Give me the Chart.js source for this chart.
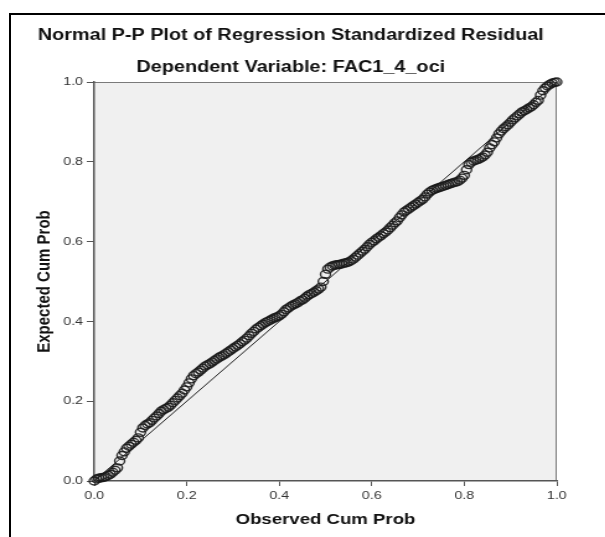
<!DOCTYPE html>
<html>
<head>
<meta charset="utf-8">
<script src="https://cdn.jsdelivr.net/npm/chart.js@4.4.1/dist/chart.umd.min.js"></script>
<style>
  html, body { margin: 0; padding: 0; background: #fff; overflow: hidden; }
  #frame { position: absolute; left: 9px; top: 13px; width: 700px; height: 700px; border: 2px solid #000; }
  /* the reference picture is stretched sideways, so the chart is drawn narrow and widened */
  #wrap { position: absolute; left: 0; top: 0; width: 488px; height: 537px; transform: scaleX(1.24); transform-origin: 0 0; }
</style>
</head>
<body>
<div id="frame"></div>
<div id="wrap"><canvas id="chart" width="488" height="537"></canvas></div>
<script>
// observed cumulative probability (x) of each residual
const observed = [
  0.000, 0.005, 0.010, 0.015, 0.020, 0.025, 0.030, 0.035, 0.040, 0.045,
  0.050, 0.055, 0.060, 0.065, 0.070, 0.075, 0.080, 0.085, 0.090, 0.095,
  0.100, 0.105, 0.110, 0.115, 0.120, 0.125, 0.130, 0.135, 0.140, 0.145,
  0.150, 0.155, 0.160, 0.165, 0.170, 0.175, 0.180, 0.185, 0.190, 0.195,
  0.200, 0.205, 0.210, 0.215, 0.220, 0.225, 0.230, 0.235, 0.240, 0.245,
  0.250, 0.255, 0.260, 0.265, 0.270, 0.275, 0.280, 0.285, 0.290, 0.295,
  0.300, 0.305, 0.310, 0.315, 0.320, 0.325, 0.330, 0.335, 0.340, 0.345,
  0.350, 0.355, 0.360, 0.365, 0.370, 0.375, 0.380, 0.385, 0.390, 0.395,
  0.400, 0.405, 0.410, 0.415, 0.420, 0.425, 0.430, 0.435, 0.440, 0.445,
  0.450, 0.455, 0.460, 0.465, 0.470, 0.475, 0.480, 0.485, 0.490, 0.495,
  0.500, 0.505, 0.510, 0.515, 0.520, 0.525, 0.530, 0.535, 0.540, 0.545,
  0.550, 0.555, 0.560, 0.565, 0.570, 0.575, 0.580, 0.585, 0.590, 0.595,
  0.600, 0.605, 0.610, 0.615, 0.620, 0.625, 0.630, 0.635, 0.640, 0.645,
  0.650, 0.655, 0.660, 0.665, 0.670, 0.675, 0.680, 0.685, 0.690, 0.695,
  0.700, 0.705, 0.710, 0.715, 0.720, 0.725, 0.730, 0.735, 0.740, 0.745,
  0.750, 0.755, 0.760, 0.765, 0.770, 0.775, 0.780, 0.785, 0.790, 0.795,
  0.800, 0.805, 0.810, 0.815, 0.820, 0.825, 0.830, 0.835, 0.840, 0.845,
  0.850, 0.855, 0.860, 0.865, 0.870, 0.875, 0.880, 0.885, 0.890, 0.895,
  0.900, 0.905, 0.910, 0.915, 0.920, 0.925, 0.930, 0.935, 0.940, 0.945,
  0.950, 0.955, 0.960, 0.965, 0.970, 0.975, 0.980, 0.985, 0.990, 0.995,
  1.000
];
// expected cumulative probability (y)
const expected = [
  0.000, 0.005, 0.007, 0.008, 0.009, 0.011, 0.014, 0.017, 0.022, 0.027,
  0.033, 0.050, 0.064, 0.073, 0.082, 0.087, 0.092, 0.097, 0.102, 0.108,
  0.122, 0.133, 0.139, 0.143, 0.146, 0.152, 0.158, 0.163, 0.169, 0.175,
  0.179, 0.182, 0.185, 0.190, 0.196, 0.202, 0.208, 0.214, 0.220, 0.228,
  0.236, 0.246, 0.256, 0.264, 0.269, 0.273, 0.278, 0.283, 0.288, 0.291,
  0.294, 0.298, 0.302, 0.306, 0.310, 0.313, 0.316, 0.320, 0.324, 0.328,
  0.332, 0.336, 0.340, 0.344, 0.349, 0.353, 0.358, 0.364, 0.370, 0.375,
  0.381, 0.385, 0.389, 0.393, 0.397, 0.400, 0.403, 0.406, 0.409, 0.411,
  0.414, 0.418, 0.424, 0.430, 0.434, 0.438, 0.441, 0.444, 0.447, 0.451,
  0.454, 0.458, 0.463, 0.467, 0.470, 0.473, 0.477, 0.481, 0.486, 0.500,
  0.518, 0.531, 0.536, 0.539, 0.541, 0.542, 0.543, 0.544, 0.546, 0.547,
  0.549, 0.552, 0.556, 0.561, 0.566, 0.571, 0.576, 0.581, 0.587, 0.593,
  0.598, 0.602, 0.607, 0.611, 0.615, 0.620, 0.624, 0.629, 0.635, 0.641,
  0.647, 0.652, 0.660, 0.667, 0.674, 0.678, 0.682, 0.686, 0.690, 0.694,
  0.698, 0.702, 0.706, 0.712, 0.719, 0.724, 0.728, 0.731, 0.733, 0.735,
  0.737, 0.739, 0.741, 0.743, 0.745, 0.747, 0.749, 0.750, 0.754, 0.759,
  0.766, 0.780, 0.793, 0.799, 0.802, 0.804, 0.806, 0.809, 0.812, 0.817,
  0.824, 0.835, 0.843, 0.850, 0.860, 0.870, 0.877, 0.883, 0.888, 0.893,
  0.899, 0.905, 0.910, 0.915, 0.920, 0.925, 0.928, 0.931, 0.935, 0.938,
  0.943, 0.949, 0.954, 0.967, 0.978, 0.985, 0.990, 0.994, 0.997, 0.999,
  1.000
];
// ends of the reference diagonal
const refLine = [0, 1];
const tickLabels = ["0.0", "0.2", "0.4", "0.6", "0.8", "1.0"];

Chart.defaults.font.family = '"Liberation Sans", Arial, sans-serif';

// grey plot background plus the thin top/right border
const plotFrame = {
  id: "plotFrame",
  beforeDraw(chart) {
    const { ctx, chartArea: a } = chart;
    ctx.save();
    ctx.fillStyle = "#f0f0f0";
    ctx.fillRect(a.left, a.top, a.right - a.left, a.bottom - a.top);
    ctx.strokeStyle = "#7a7a7a";
    ctx.lineWidth = 1;
    ctx.beginPath();
    ctx.moveTo(a.left, a.top + 0.5);
    ctx.lineTo(a.right - 0.5, a.top + 0.5);
    ctx.lineTo(a.right - 0.5, a.bottom);
    ctx.stroke();
    ctx.restore();
  }
};

const titleFont = { size: 16, weight: "bold", lineHeight: 1.2 };
const axisTitleFont = { size: 15, weight: "bold", lineHeight: 1.2 };

new Chart(document.getElementById("chart").getContext("2d"), {
  type: "scatter",
  data: {
    datasets: [
      {
        label: "Residuals",
        data: observed.map((x, i) => ({ x: x, y: expected[i] })),
        pointStyle: "circle",
        pointRadius: 4,
        pointBorderWidth: 1.4,
        pointBorderColor: "rgba(25,25,25,0.9)",
        pointBackgroundColor: "rgba(0,0,0,0)",
        clip: false,
        order: 1
      },
      {
        label: "Diagonal",
        data: refLine.map(v => ({ x: v, y: v })),
        showLine: true,
        borderColor: "#222",
        borderWidth: 1,
        pointRadius: 0,
        order: 2
      }
    ]
  },
  options: {
    responsive: false,
    animation: false,
    layout: { padding: { left: 20, right: 39, top: 0, bottom: 0 }, autoPadding: false },
    plugins: {
      legend: { display: false },
      tooltip: { enabled: false },
      title: {
        display: true,
        text: "Normal P-P Plot of Regression Standardized Residual",
        color: "#111",
        font: titleFont,
        padding: { top: 26, bottom: 6 }
      },
      subtitle: {
        display: true,
        text: "Dependent Variable: FAC1_4_oci",
        color: "#111",
        font: titleFont,
        padding: { top: 7, bottom: 4.6 }
      }
    },
    scales: {
      x: {
        type: "linear",
        min: 0,
        max: 1,
        afterFit: s => { s.height = 56; },
        border: { color: "#555", width: 1.5 },
        grid: { drawOnChartArea: false, color: "#555", tickLength: 5 },
        ticks: { stepSize: 0.2, padding: 3, color: "#333", font: { size: 11.5 }, callback: (v, i) => tickLabels[i] },
        title: { display: true, text: "Observed Cum Prob", color: "#111", font: axisTitleFont, padding: { top: 0, bottom: 8 } }
      },
      y: {
        type: "linear",
        min: 0,
        max: 1,
        afterFit: s => { s.width = 56; },
        border: { color: "#555", width: 1.5 },
        grid: { drawOnChartArea: false, color: "#555", tickLength: 6 },
        ticks: { stepSize: 0.2, padding: 3, color: "#333", font: { size: 11.5 }, callback: (v, i) => tickLabels[i] },
        title: { display: true, text: "Expected Cum Prob", color: "#111", font: axisTitleFont, padding: { top: 7, bottom: 0 } }
      }
    }
  },
  plugins: [plotFrame]
});
</script>
</body>
</html>
